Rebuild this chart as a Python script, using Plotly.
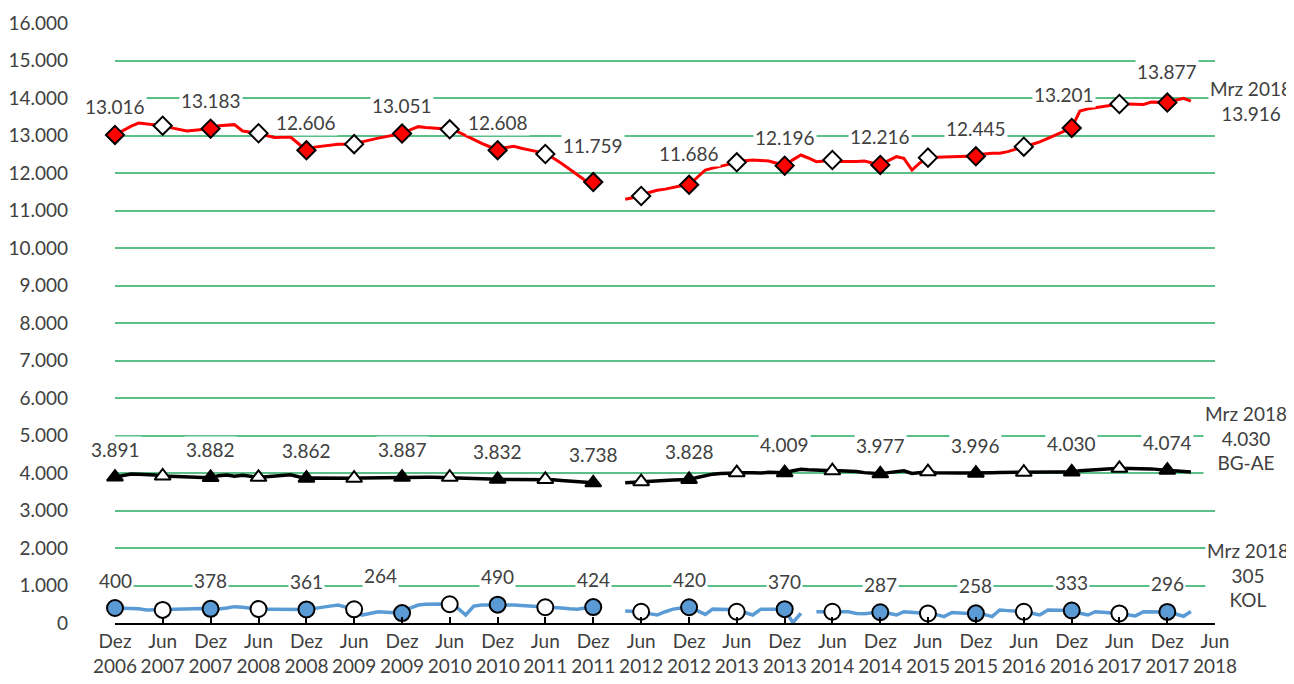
import plotly.graph_objects as go
import pandas as pd

# Monthly data Dez 2006 .. Mrz 2018 (None = no data)
months = pd.date_range("2006-12-01", "2018-03-01", freq="MS")

red_vals = [13016, 13130, 13250, 13330, 13310, 13290, 13262, 13210, 13160, 13120, 13140, 13165,
            13183, 13260, 13275, 13290, 13120, 13090, 13060, 13000, 12945, 12955, 12960, 12780,
            12606, 12690, 12720, 12750, 12765, 12770, 12770, 12830, 12870, 12930, 12970, 13010,
            13051, 13150, 13236, 13215, 13200, 13185, 13165, 13100, 12990, 12890, 12790, 12700,
            12608, 12680, 12710, 12660, 12620, 12570, 12507, 12400, 12260, 12100, 11950, 11800,
            11759, None, None, None, 11300, 11350, 11387, 11480, 11540, 11570, 11620, 11660,
            11686, 11880, 12080, 12130, 12180, 12240, 12285, 12330, 12347, 12330, 12320, 12260,
            12196, 12350, 12480, 12400, 12302, 12320, 12347, 12310, 12300, 12310, 12320, 12270,
            12216, 12330, 12435, 12390, 12080, 12270, 12410, 12420, 12430, 12440, 12453, 12450,
            12445, 12510, 12525, 12525, 12570, 12640, 12702, 12760, 12830, 12925, 13020, 13110,
            13201, 13650, 13710, 13740, 13770, 13810, 13840, 13840, 13835, 13830, 13890, 13880,
            13877, 13940, 13990, 13916]

bgae_vals = [3891, 3940, 3973, 3970, 3965, 3950, 3920, 3910, 3900, 3880, 3875, 3880,
             3882, 3930, 3945, 3915, 3940, 3910, 3885, 3900, 3920, 3935, 3950, 3900,
             3862, 3870, 3865, 3868, 3870, 3865, 3860, 3870, 3875, 3880, 3885, 3887,
             3887, 3887, 3887, 3890, 3888, 3887, 3887, 3870, 3860, 3850, 3840, 3835,
             3832, 3830, 3830, 3830, 3830, 3830, 3830, 3820, 3800, 3790, 3780, 3760,
             3738, None, None, None, 3742, 3755, 3770, 3790, 3805, 3810, 3815, 3820,
             3828, 3880, 3930, 3970, 3985, 4000, 4008, 4010, 4005, 4000, 4020, 4015,
             4009, 4060, 4098, 4085, 4070, 4065, 4060, 4060, 4055, 4040, 4010, 3990,
             3977, 4010, 4040, 4060, 3990, 4020, 4035, 4010, 4000, 4005, 4000, 3998,
             3996, 4000, 4010, 4015, 4020, 4020, 4020, 4025, 4025, 4030, 4030, 4030,
             4030, 4060, 4080, 4090, 4100, 4115, 4124, 4124, 4124, 4120, 4110, 4090,
             4074, 4060, 4040, 4030]

kol_vals = [400, 395, 390, 380, 350, 355, 350, 360, 370, 380, 392, 385,
            378, 375, 400, 436, 420, 395, 373, 370, 365, 365, 363, 362,
            361, 390, 410, 450, 480, 420, 365, 213, 250, 300, 290, 275,
            264, 400, 480, 500, 510, 505, 500, 400, 213, 450, 480, 485,
            490, 485, 480, 470, 460, 450, 420, 420, 400, 380, 370, 400,
            424, None, None, None, 320, 310, 300, 250, 213, 300, 370, 400,
            420, 330, 230, 370, 370, 360, 300, 280, 213, 370, 370, 370,
            370, 10, 260, None, 300, 310, 300, 300, 300, 255, 250, 270,
            287, 260, 213, 300, 290, 270, 255, 230, 170, 280, 270, 265,
            258, 230, 170, 347, 330, 315, 300, 260, 213, 347, 345, 340,
            333, 260, 213, 300, 290, 270, 255, 220, 190, 300, 300, 298,
            296, 240, 180, 305]

series_names = ["BER", "BG-AE", "KOL"]
tick_dates = pd.date_range("2006-12-01", "2018-06-01", freq="6MS")
tick_text = [("Dez" if d.month == 12 else "Jun") + "<br>" + str(d.year) for d in tick_dates]

TXT = "#404040"
FONT = "Lato"
FS = 19
GRID = "#5BC088"


def de(v):
    return f"{v:,}".replace(",", ".")


fig = go.Figure()
annotations = []

# label offsets (x, y) in px for particular Dez points, keyed by (series, month index)
label_adj = {(0, 60): (0, 37), (0, 72): (0, 31), (0, 120): (-8, 33), (0, 132): (0, 31),
             (2, 36): (-22, 38)}

styles = [
    (red_vals, "#FF0000", 3, "diamond", 14, "#FF0000"),
    (bgae_vals, "#000000", 3.5, "triangle-up", 14, "#000000"),
    (kol_vals, "#5B9BD5", 3.5, "circle", 16, "#5B9BD5"),
]

for vals, color, width, symbol, size, fill in styles:
    fig.add_trace(go.Scatter(x=months, y=vals, mode="lines",
                             line=dict(color=color, width=width),
                             connectgaps=False, hoverinfo="skip", cliponaxis=False))
for s, (vals, color, width, symbol, size, fill) in enumerate(styles):
    jun_idx = list(range(6, len(vals), 12))
    dez_idx = list(range(0, len(vals), 12))
    fig.add_trace(go.Scatter(x=[months[i] for i in jun_idx], y=[vals[i] for i in jun_idx],
                             mode="markers", cliponaxis=False, hoverinfo="skip",
                             marker=dict(symbol=symbol, size=size, color="white",
                                         line=dict(color="black", width=2))))
    fig.add_trace(go.Scatter(x=[months[i] for i in dez_idx], y=[vals[i] for i in dez_idx],
                             mode="markers", cliponaxis=False, hoverinfo="skip",
                             marker=dict(symbol=symbol, size=size, color=fill,
                                         line=dict(color="black", width=2))))
    for i in dez_idx:
        xs, ys = label_adj.get((s, i), (0, 28))
        annotations.append(dict(x=months[i], y=vals[i], text=de(vals[i]), showarrow=False,
                                xanchor="center", yanchor="middle", yshift=ys, xshift=xs,
                                bgcolor="white", borderpad=1,
                                font=dict(family=FONT, size=FS, color=TXT)))

# end labels (Mrz 2018)
end_info = [(red_vals, "Mrz 2018<br>" + de(red_vals[-1]), 60, 0),
            (bgae_vals, "Mrz 2018<br>" + de(bgae_vals[-1]) + "<br>" + series_names[1], 55, 34),
            (kol_vals, "Mrz 2018<br>" + de(kol_vals[-1]) + "<br>" + series_names[2], 57, 37)]
for vals, text, xs, ys in end_info:
    annotations.append(dict(x=months[-1], y=vals[-1], text=text, showarrow=False,
                            xanchor="center", yanchor="middle", xshift=xs, yshift=ys,
                            bgcolor="white", borderpad=1, align="center",
                            font=dict(family=FONT, size=FS, color=TXT)))

# page body has an 8px margin: figure sized so it fills the 1294x684 window
fig.update_layout(
    width=1286, height=676,
    margin=dict(l=107, r=79, t=15, b=61, autoexpand=False),
    paper_bgcolor="white", plot_bgcolor="white",
    separators=",.",
    showlegend=False,
    font=dict(family=FONT, size=FS, color=TXT),
    annotations=annotations,
)
fig.update_xaxes(type="date", range=[months[0], tick_dates[-1]],
                 tickvals=list(tick_dates), ticktext=tick_text,
                 ticks="inside", ticklen=6, tickwidth=2, tickcolor="black",
                 showline=True, linecolor="black", linewidth=2,
                 showgrid=False, zeroline=False, automargin=False,
                 tickfont=dict(family=FONT, size=FS, color=TXT))
fig.update_yaxes(range=[0, 16000], tickvals=list(range(0, 16001, 1000)), tickformat=",d",
                 showgrid=True, gridcolor=GRID, gridwidth=1.5, zeroline=False,
                 showline=False, ticks="", ticklabelstandoff=46, automargin=False,
                 tickfont=dict(family=FONT, size=FS, color=TXT))

fig.write_html("out.html")
